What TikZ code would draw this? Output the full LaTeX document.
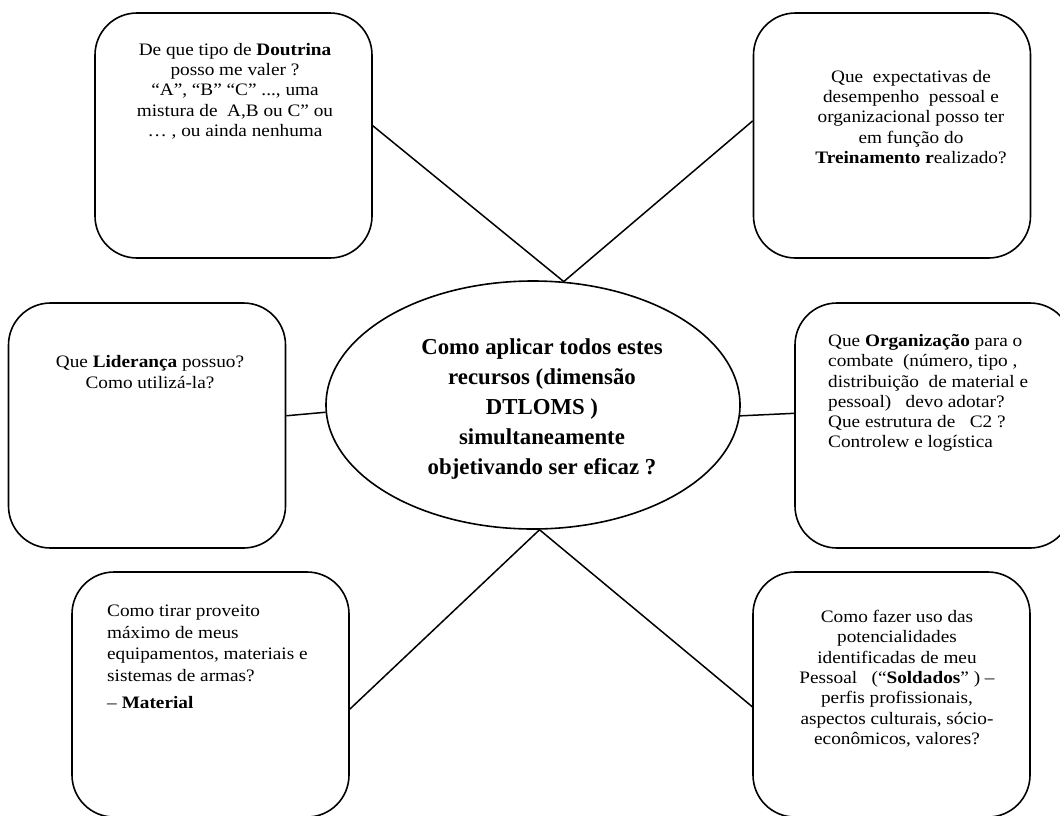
\documentclass[tikz,border=0pt]{standalone}
\usepackage{fontspec}
\setmainfont{Liberation Serif}[FakeStretch=1.1]
\newfontfamily\hubfont{Liberation Serif}
\usetikzlibrary{shapes.geometric}

\begin{document}
\begin{tikzpicture}[x=1pt,y=1pt,
  qbox/.style={draw, line width=1.6pt, rounded corners=42pt, inner sep=0pt,
               minimum width=277pt, minimum height=245pt},
  qtext/.style={inner sep=0pt, anchor=north, font=\fontsize{17.5}{20.3}\selectfont},
  hub/.style={draw, ellipse, line width=1.6pt, inner sep=0pt,
              minimum width=414pt, minimum height=248pt},
  hubtext/.style={inner sep=0pt, anchor=north, align=center,
                  font=\hubfont\fontsize{22.8}{30}\selectfont\bfseries},
  link/.style={line width=1.5pt}]
\useasboundingbox (0,0) rectangle (1060,-815);
\clip (0,0) rectangle (1060,-815);

% question boxes
\node[qbox] (TL) at (233.5,-135.5) {};
\node[qbox] (TR) at (892,-135.5) {};
\node[qbox] (LM) at (147,-425.5) {};
\node[qbox] (RM) at (933.5,-425.5) {};
\node[qbox] (BL) at (210.5,-694.5) {};
\node[qbox] (BR) at (891.5,-694.5) {};

% central question
\node[hub] (ell) at (533,-405) {};
\node[hubtext] (hubq) at (542,-338) {Como aplicar todos estes\\recursos (dimensão\\DTLOMS )\\simultaneamente\\objetivando ser eficaz ?};

% texts of the boxes
\node[qtext, align=center] (tTL) at (235,-43)
  {De que tipo de \textbf{Doutrina}\\posso me valer ?\\“A”, “B” “C” ..., uma\\mistura de~ A,B ou C” ou\\… , ou ainda nenhuma};
\node[qtext, align=center] (tTR) at (911,-70)
  {Que~ expectativas de\\desempenho~ pessoal e\\organizacional posso ter\\em função do\\\textbf{Treinamento r}ealizado?};
\node[qtext, align=center, font=\fontsize{17.5}{21.5}\selectfont] (tLM) at (150,-355)
  {Que \textbf{Liderança} possuo?\\Como utilizá-la?};
\node[qtext, align=left, anchor=north west] (tRM) at (828,-334)
  {Que \textbf{Organização} para o\\combate~ (número, tipo ,\\distribuição~ de material e\\pessoal)~~ devo adotar?\\Que estrutura de~~ C2 ?\\Controlew e logística};
\node[qtext, align=left, anchor=north west, font=\fontsize{17.5}{21.5}\selectfont] (tBL) at (107,-605)
  {Como tirar proveito\\máximo de meus\\equipamentos, materiais e\\sistemas de armas?\\[6pt]– \textbf{Material}};
\node[qtext, align=center] (tBR) at (897,-610)
  {Como fazer uso das\\potencialidades\\identificadas de meu\\Pessoal~~ (“\textbf{Soldados}” ) –\\perfis profissionais,\\aspectos culturais, sócio-\\econômicos, valores?};

% connectors to the central question
\draw[link] (TL.4.3) -- (ell.76.7) -- (TR.174.8);
\draw[link] (BL.354.8) -- (ell.273.2) -- (BR.185.2);
\draw[link] (LM.4.7) -- (ell.182.5);
\draw[link] (ell.357.5) -- (RM.175.3);
\end{tikzpicture}
\end{document}
